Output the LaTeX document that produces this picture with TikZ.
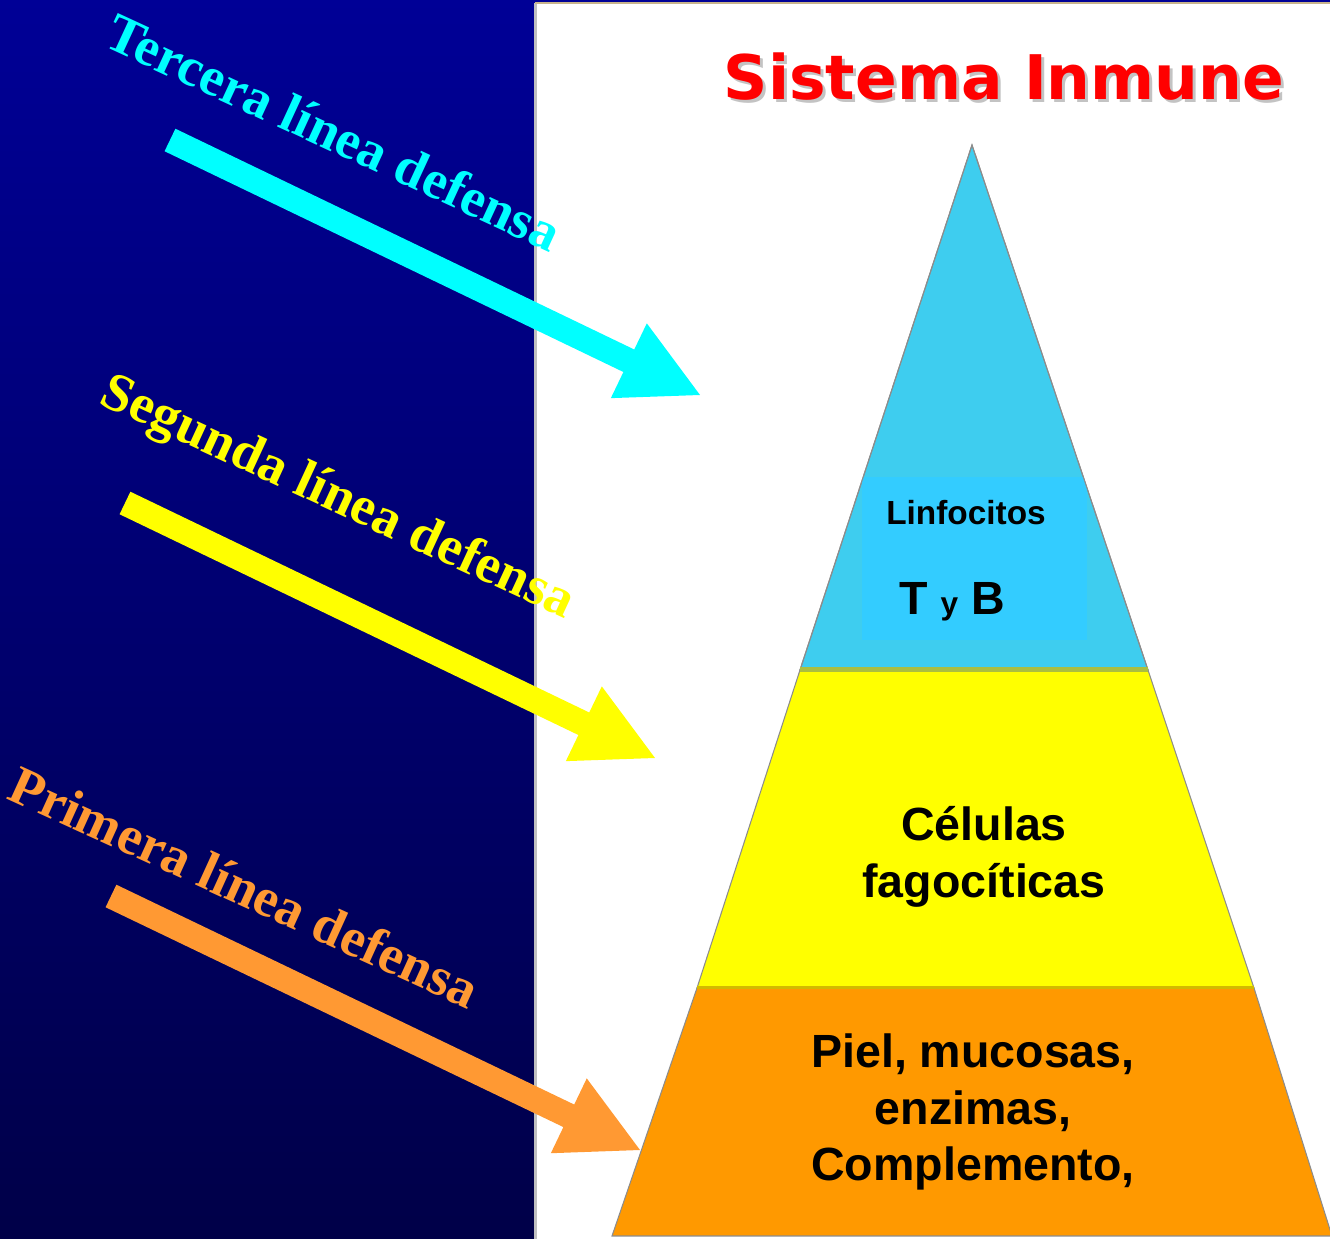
\documentclass[tikz,border=0pt]{standalone}
\usepackage{fontspec}
\setmainfont{Liberation Sans}
\newfontfamily\titlefont{DejaVu Sans}
\newfontfamily\labelfont{Liberation Serif}
\usetikzlibrary{calc}
\definecolor{bgtop}{RGB}{0,0,150}
\definecolor{bgbot}{RGB}{0,0,72}
\definecolor{tierblue}{RGB}{62,205,239}
\definecolor{tierblueinner}{RGB}{51,204,255}
\definecolor{tieryellow}{RGB}{255,255,0}
\definecolor{tierorange}{RGB}{255,153,0}
\definecolor{arrcyan}{RGB}{0,255,255}
\definecolor{arryellow}{RGB}{255,255,0}
\definecolor{arrorange}{RGB}{255,153,51}
\definecolor{titlered}{RGB}{255,0,0}
\definecolor{titleshadow}{RGB}{195,195,195}
\definecolor{edgegray}{RGB}{140,140,140}
\definecolor{sepolive}{RGB}{170,190,64}
\definecolor{sepgold}{RGB}{210,185,0}
\definecolor{panelleft}{RGB}{192,192,192}
\definecolor{paneltop}{RGB}{200,180,140}
\newcommand\fatarrow[3]{%
  \coordinate (#2b) at ($(#3)!1.58cm!(#2)$);
  \fill[#1] ($(#2)!0.25cm!90:(#3)$) -- ($(#2b)!0.25cm!90:(#3)$) -- ($(#2b)!0.83cm!90:(#3)$) -- (#3)
    -- ($(#2b)!0.83cm!-90:(#3)$) -- ($(#2b)!0.25cm!-90:(#3)$) -- ($(#2)!0.25cm!-90:(#3)$) -- cycle;}
\tikzset{
  tier/.style={draw=edgegray, line width=0.6pt},
  tiertext/.style={font=\bfseries\fontsize{26.5}{32.4}\selectfont, align=center, text=black},
  linelabel/.style={font=\labelfont\bfseries\fontsize{31}{36}\selectfont},
  titletext/.style={font=\titlefont\bfseries\fontsize{35}{40}\selectfont}
}
\begin{document}
\begin{tikzpicture}[x=0.02cm,y=-0.02cm, every node/.style={inner sep=0pt, outer sep=0pt}]
\useasboundingbox (0,0) rectangle (1330,1239);
\shade[top color=bgtop, bottom color=bgbot] (0,0) rectangle (1330,1239);
\fill[white] (535,3) rectangle (1330,1239);
\draw[panelleft, line width=0.06cm] (535,1239) -- (535,3);
\draw[paneltop, line width=0.04cm] (535,3) -- (1330,3);
% title
\node[titletext, text=titleshadow] (titlesh) at (1007,80) {Sistema Inmune};
\node[titletext, text=titlered] (title) at (1004,77) {Sistema Inmune};
% pyramid
\coordinate (apex) at (972,145);
\coordinate (l1) at (800,670); \coordinate (r1) at (1148,670);
\coordinate (l2) at (697,988); \coordinate (r2) at (1254,988);
\coordinate (l3) at (612,1236); \coordinate (r3) at (1332,1236);
\filldraw[tier, fill=tierblue] (apex) -- (r1) -- (l1) -- cycle;
\begin{scope}
  \clip (apex) -- (r1) -- (l1) -- cycle;
  \fill[tierblueinner] (862,477) rectangle (1087,640);
\end{scope}
\draw[tier] (apex) -- (r1) -- (l1) -- cycle;
\filldraw[tier, fill=tieryellow] (l1) -- (r1) -- (r2) -- (l2) -- cycle;
\filldraw[tier, fill=tierorange] (l2) -- (r2) -- (r3) -- (l3) -- cycle;
\draw[sepolive, line width=0.1cm] (l1) -- (r1);
\draw[sepgold, line width=0.06cm] (l2) -- (r2);
\node[font=\bfseries\fontsize{19}{22}\selectfont] (linf) at (966,513) {Linfocitos};
\node[font=\bfseries\fontsize{26.5}{32}\selectfont] (tyb) at (952,602) {T {\fontsize{18}{20}\selectfont y} B};
\node[tiertext] (cel) at (984,857) {Células\\fagocíticas};
\node[tiertext] (piel) at (973,1112) {Piel, mucosas,\\enzimas,\\Complemento,};
% arrows
\coordinate (a3s) at (170,140); \coordinate (a3t) at (700,395);
\coordinate (a2s) at (125,503); \coordinate (a2t) at (655,758);
\coordinate (a1s) at (111,896); \coordinate (a1t) at (640,1150);
\fatarrow{arrcyan}{a3s}{a3t}
\fatarrow{arryellow}{a2s}{a2t}
\fatarrow{arrorange}{a1s}{a1t}
% labels
\node[linelabel, text=arrcyan, rotate=-24.8] (lab3) at (334,132) {Tercera línea defensa};
\node[linelabel, text=arryellow, rotate=-24.8] (lab2) at (337,499) {Segunda línea defensa};
\node[linelabel, text=arrorange, rotate=-24.5] (lab1) at (245,887) {Primera línea defensa};
\end{tikzpicture}
\end{document}
